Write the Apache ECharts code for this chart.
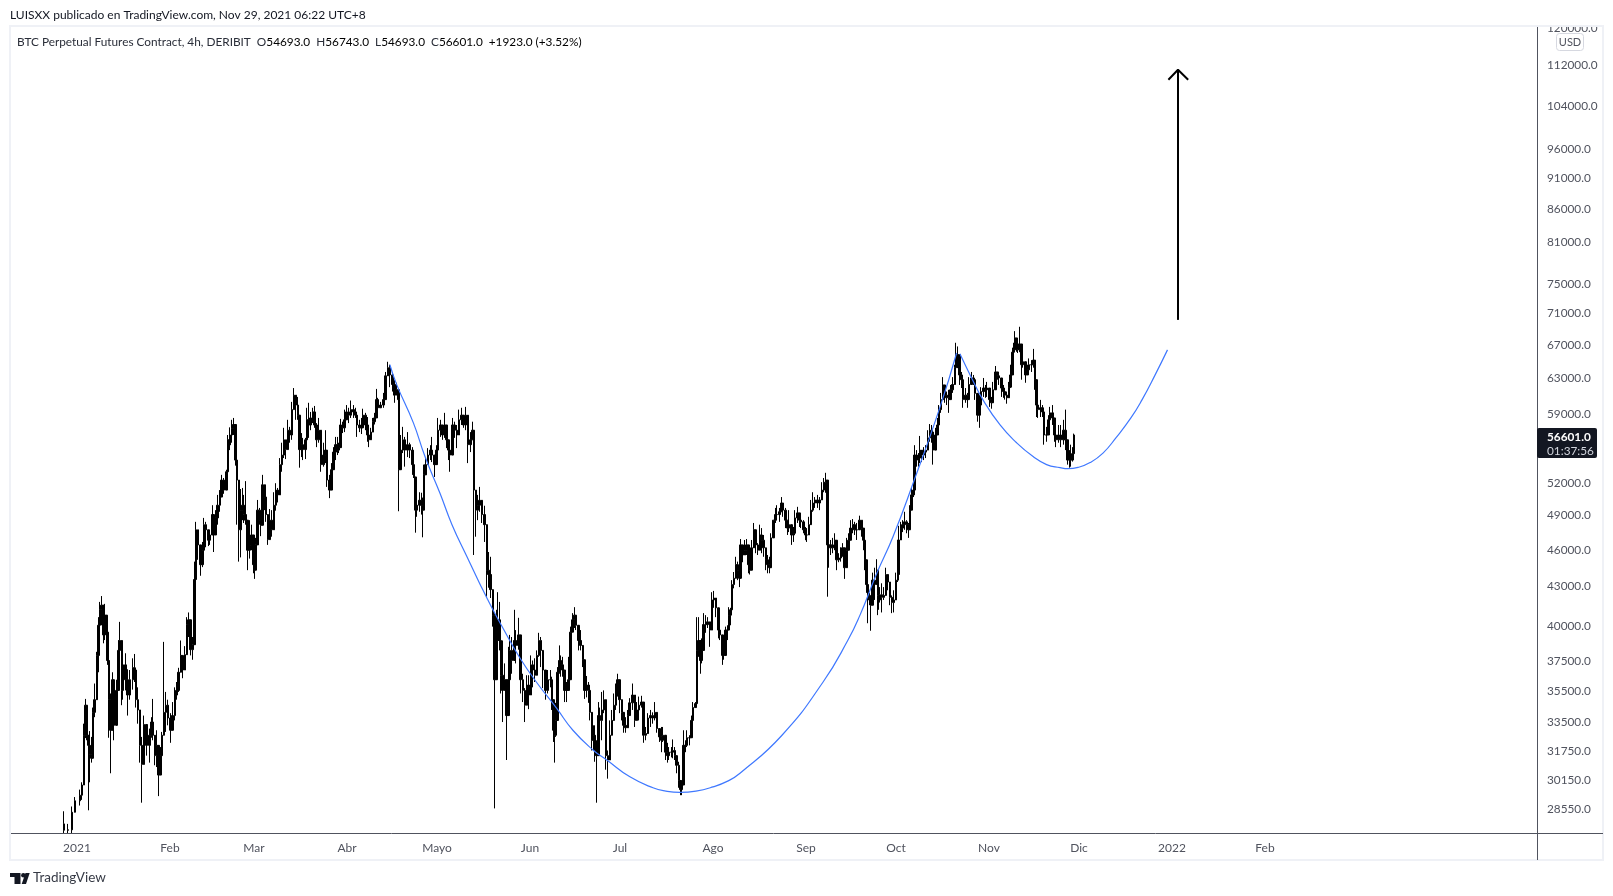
<!DOCTYPE html>
<html>
<head>
<meta charset="utf-8">
<title>BTC Perpetual Futures Contract</title>
<script src="https://cdn.jsdelivr.net/npm/echarts@6/dist/echarts.min.js"></script>
<style>
  html, body { margin: 0; padding: 0; background: #fff; }
  #chart { width: 1613px; height: 896px; }
</style>
</head>
<body>
<div id="chart"></div>
<script>
const candleDays = [
  -4.3,-3,-1.7,-0.6,1,1.7,2.3,2.9,3.4,3.8,4.3,4.9,5.3,5.9,6.6,7.2,7.7,8.2,8.8,9.3,9.9,10.2,10.7,11.2,11.8,12.4,13.2,13.8,14.3,15,15.4,16.1,16.8,17.7,18.6,19.1,19.7,20.3,21,21.6,22.3,23.2,24.1,24.8,25.1,26,26.6,27.1,27.9,28.4,
  29,29.7,30.4,31.2,31.9,32.7,33.2,33.8,34.7,35.2,36,36.7,37.2,37.9,38.6,39.1,39.7,40.4,41.2,41.8,42.3,43,43.8,44.3,45.1,45.6,46.2,46.9,47.7,48.2,49,49.9,50.4,50.8,
  51,51.7,52.2,52.9,53.4,54,54.6,55.2,55.7,56.2,56.9,57.5,58.1,58.8,59.1,59.7,60.2,60.8,61.3,61.9,62.6,63,63.7,64.3,65,65.7,66.3,67,67.7,68.3,69,69.7,70.3,71,71.7,72.3,73,73.7,74.1,74.8,75.4,76.1,76.6,77.1,77.9,78.6,79.2,79.9,80.6,
  81.4,82.1,82.8,83.4,84.1,84.8,85.5,86.1,86.8,87.4,87.9,88.6,89.2,89.9,90.6,91.4,92.1,92.8,93.4,94.1,94.8,95.4,96.1,96.8,97.3,98,98.6,99.2,99.8,100.4,101.2,102.1,102.9,103.6,104.3,105.1,105.8,106.6,107.1,107.4,
  107.9,108.7,109.3,110.1,111,111.8,112.3,112.8,113.4,114.1,114.8,115.4,115.6,116.2,117,117.8,118.4,119.2,119.9,120.4,121.1,121.9,122.7,123.2,123.9,124.4,125.2,125.9,126.7,127.3,128.1,128.8,129.6,130.4,131.1,131.8,132.3,133,133.6,134.2,135,135.8,136.6,137.2,137.9,138.6,139.2,139.8,140.3,140.9,141.4,141.9,142.6,143.2,143.8,144.3,145,145.8,146.4,147.1,147.9,148.6,149.3,150,150.7,151.3,152,152.7,153.3,154,154.6,155.4,156.2,157,157.8,158.3,158.8,159.2,159.7,160.2,160.8,
  161.2,161.9,162.5,163.2,163.9,164.5,165.1,165.8,166.4,167.1,167.9,168.6,169.2,169.9,170.6,171,171.6,172.1,172.7,173.1,173.8,174.3,175,175.7,176.3,177,177.7,178.3,179,179.7,180.2,180.9,181.6,182.2,182.9,183.6,184.2,185.1,186,186.7,187.3,188.1,188.8,189.6,190.4,191.2,192,192.7,193.3,194.1,194.8,195.4,196.1,196.8,197.4,198.1,198.7,199.3,199.9,200.6,201.1,201.6,202.1,202.8,203.4,204.2,204.8,205.4,206.1,206.6,207.1,207.8,208.3,208.9,209.6,210.2,211,211.6,212.3,213,213.8,
  214.3,215.2,215.7,216.2,216.9,217.4,217.9,218.3,219,219.6,220.2,220.8,221.2,221.9,222.6,223.2,223.9,224.3,224.9,225.6,226.2,227,227.7,228.2,228.9,229.6,230.2,230.9,231.4,232.1,232.8,233.4,234.1,234.8,235.4,236.1,236.8,237.4,238.1,238.8,239.4,240.1,240.8,241.4,242.1,242.8,243.4,244,244.7,245.3,246,246.8,247.7,248.3,249,249.6,250.1,250.6,251.2,251.9,252.6,253.2,253.9,254.6,255.2,255.9,256.6,257.2,257.9,258.6,259.2,259.9,260.9,261.6,262.2,262.7,263.1,263.6,264.1,264.6,265.2,265.9,266.6,267,267.4,
  267.7,268.3,269,269.7,270.3,271,271.7,272.3,273,273.6,273.9,274.6,275.2,275.9,276.6,277.1,277.6,278.1,278.8,279.2,279.9,280.6,281,281.7,282.3,283,283.7,284.3,285,285.4,286.1,286.8,287.4,288,288.6,289.2,289.9,290.6,291.2,291.9,292.6,293,293.6,294.1,294.8,295.4,296.1,296.8,297.4,298.1,298.8,299.4,300.1,300.8,301.4,302.1,302.8,303.4,304.1,304.8,305.4,306.1,306.8,307.4,308.1,308.8,309.4,310,310.6,311.2,311.8,312.2,312.7,313.2,313.6,314.1,314.8,315.4,316.1,316.8,317.4,318.1,318.8,319.3,319.8,320.4,321.1,321.8,322.4,323.1,323.8,324.4,325.1,325.8,326.4,327.1,
  328,328.8,329.5,330.2,330.8,331.4,331.9,332.3
];
const candleHighs = [
  28350,27700,28600,29100,29500,29900,33300,34850,33800,32200,32850,32500,34300,35850,38000,40500,41650,42100,40800,41500,40150,39050,37100,35200,36600,35600,36100,38830,40150,38100,37900,37900,36800,36750,37550,37850,35950,35600,32750,32500,33800,32600,33000,33700,34850,32450,32900,31050,31900,32800,
  38700,35300,34800,33950,34650,35600,35950,36900,38800,37750,38400,40500,40850,39350,39050,44850,48250,47550,45650,46500,48600,48250,47550,47350,49750,48700,49300,50700,51150,52600,52300,53100,56600,56300,
  57400,58200,58400,55800,54800,52100,51250,51350,50700,52000,47900,48400,48000,45550,46000,46850,50230,49500,49000,52600,51450,50500,48700,49400,49300,50950,51800,51350,54250,55800,57350,56100,58200,57450,60150,61700,60700,60700,57350,56800,56300,56300,59500,60050,59050,59500,59700,57850,58400,
  55800,55800,57100,52800,52600,53750,55350,56400,56400,55800,58300,58000,59300,59800,59500,60300,59800,59500,58500,58200,58400,59400,58950,58500,56800,57350,58400,58950,61600,60600,60150,61150,63550,64750,64400,63450,62600,62300,61150,59800,
  56600,57450,56400,56900,55800,55350,52800,50900,51350,50950,50900,50450,53600,54250,55250,55550,56400,54250,55550,58400,58200,57350,58950,56800,55900,55250,58400,58000,57650,59300,59500,57850,59600,56400,56900,58000,56100,51150,50700,51450,49500,49700,45800,45650,45250,42000,40800,41050,42400,41650,38800,38800,37200,35950,38350,39200,39050,41050,39550,40450,37650,36500,35550,36400,36400,37750,37400,37550,38100,39350,39050,37900,36300,36750,36750,36300,33800,33700,34600,36950,38450,
  37750,37650,36200,35950,37650,39800,40800,41250,40450,39550,39550,38100,36300,36350,35950,34600,33300,33200,33200,32300,34650,34300,35300,35400,32300,31700,33500,34150,35200,35850,36500,35200,34650,33800,33700,34150,34900,35850,34150,34650,35000,35050,33300,33100,33950,34150,34000,34650,33300,32800,33100,33100,32150,32150,31900,31900,32350,31900,31300,31050,29900,30000,32900,32300,32900,32600,33800,34650,34650,40500,40500,38000,38950,40800,40650,40500,39900,42400,42500,41950,39900,
  39700,38830,38450,39800,39900,41250,41200,43350,44000,45250,44850,44600,46750,46050,46670,46750,45250,44850,46670,48150,47100,46400,48000,47700,47100,45550,45400,45250,47250,48400,49500,49750,49500,50500,49750,49500,48400,49300,47700,47800,49300,49600,48900,48900,48400,47800,47700,48700,50230,50950,50500,50700,50500,51900,52300,52800,50950,47250,46670,46850,47250,45800,45550,46050,46400,45250,46850,47250,48400,48500,48250,48150,48800,48400,47700,45800,44000,43350,42350,42050,43950,44350,45050,43100,43100,
  42800,43100,42800,44350,43600,42550,42150,42550,43950,44050,47900,48250,48400,49150,48400,48150,49750,51350,51800,55550,55050,54750,56500,54850,55350,55550,57100,57750,57650,56400,57350,58400,59800,61150,62950,61500,61300,61500,62050,62950,64400,67050,66600,63800,63550,61500,61700,61150,62950,63550,63200,61800,59800,60900,61800,62850,62050,62400,61150,60700,62400,64250,63550,63450,62400,62050,61500,61300,62400,64400,66450,67050,68500,67650,67050,69050,65550,65300,64650,64400,65150,64950,66300,64950,61300,61150,60370,59800,58400,57450,58700,59600,59800,57650,57100,57650,
  57650,58200,59300,55600,55050,55600,55350,56743
];
const candleLows = [
  27240,27240,27240,28400,28650,28950,30470,32430,32300,28400,29900,31000,33050,33700,36400,36600,37850,39900,38600,38830,39050,37100,32450,30400,33950,32300,34000,36750,38130,34450,34800,35400,33800,34800,35450,35950,34300,33300,31000,28800,31900,31400,31000,32450,32300,30850,30750,29150,30750,31950,
  33300,32800,33200,32150,33200,33500,34800,35300,36750,36200,36950,38700,39050,37750,37450,39200,45000,45000,43700,44400,46400,46050,46150,46250,47450,45650,47100,48000,49150,50500,50800,52300,54750,55050,
  55800,55800,56600,53500,48000,44850,45200,48400,48150,48000,44150,45100,45800,43900,43450,45650,47800,48000,47000,50000,49300,48250,46250,46950,46950,49150,49250,50000,52100,52900,54250,54150,55250,55800,56100,59300,58200,58200,53300,54350,54050,54150,57100,56300,57100,57850,57350,55350,55800,
  52900,53400,53750,51450,50400,52100,53850,54050,54550,54750,56900,56800,56900,58400,57850,58400,58400,58400,56400,56900,56700,58200,57100,55900,55350,56300,57350,57700,59300,58400,59500,59500,62400,63500,61800,61300,60050,60900,59600,49200,
  53200,54750,53400,54350,54250,52600,52300,47300,48700,49150,48900,46900,50550,52800,53600,54050,53850,52400,53750,56100,56400,56100,56300,55250,54050,52900,56300,56300,55250,56600,57650,57350,57100,53750,54850,56100,45400,46950,48400,49150,48150,46500,42050,42750,41950,39800,28500,36500,38800,38100,35200,33400,35850,31150,34350,36500,36500,38000,37200,38150,35200,34650,33400,34650,34200,36500,35600,35950,36950,37650,36950,35550,34800,35200,35600,34150,32200,31000,32500,36200,36500,
  36300,36300,34650,34650,35400,38830,39550,39700,39550,38100,38100,36950,34850,34950,34600,33500,31700,31700,31050,28800,32300,32750,32300,33950,30600,30100,31300,32750,33950,34150,35000,33950,33500,32750,32750,33100,34300,34150,33100,33650,33500,34300,32150,32300,33200,33100,33300,33500,32750,32200,31600,32200,31150,31000,31150,31300,31250,31150,30400,29600,29200,29200,31400,31600,31900,32000,32750,33700,34300,35400,37650,36500,37200,38830,39350,39700,38350,40800,41200,40500,38950,
  38830,37100,37450,38830,38830,39900,39900,42400,42700,43600,43350,42800,45250,44800,45550,45400,43900,43800,45000,46050,45550,45400,46050,45550,45250,44150,43900,43900,45800,47250,48150,48400,48250,49150,48700,47700,47100,47350,46250,46500,47700,48150,47800,47700,47250,46650,46500,47100,48250,49150,49500,49500,49300,50500,50950,50900,42050,44350,45400,45550,45800,44150,44800,44850,45250,43450,44600,46050,46950,47250,47100,46670,47700,46950,45800,44150,42350,40050,41400,39500,42050,41800,43350,40650,41050,
  41600,40850,41800,42750,42550,41400,40800,40850,42750,43200,44150,46950,47350,47550,47250,46850,48600,49600,50500,51900,53400,53400,53750,53850,54050,54250,55350,55900,55800,53600,55350,56600,57450,58950,60600,60050,59800,58950,60700,61150,63450,63550,64000,62050,61700,59500,60050,59500,61150,62400,62050,60370,58000,57350,60050,60700,60600,60700,59600,59400,60150,62850,62650,62050,60700,60600,60400,59950,61300,61700,64650,65300,66450,65950,65800,65900,62650,64050,62300,63450,63550,63550,64050,61500,58500,58400,58500,58500,55600,55900,57350,58200,57650,55900,55350,55800,
  55350,55600,55050,53600,53300,53400,53900,54693
];
const candleCloses = [
  27380,27400,28300,28900,29200,29750,32600,34450,32600,32000,31450,31250,34000,34800,37750,39900,41050,41400,39200,40650,39400,37400,34800,32900,36100,33200,35400,38100,38800,35400,37100,36100,35100,36100,36900,36750,34800,34150,32000,30900,33250,32000,32600,33400,32600,31400,32000,30300,31400,32600,
  34000,34450,33650,32900,33800,35100,35400,36600,37750,36750,37800,39950,40300,38150,38500,43400,47550,46250,44600,45800,48000,47550,46650,47100,48900,47100,48600,49750,50500,52100,51150,52900,56100,55600,
  56600,57300,57700,54050,52100,47550,49300,49750,48900,48400,45800,46200,47100,44600,44150,46250,49300,48400,47950,51650,50500,48900,46700,48400,47550,49750,51150,50700,53600,54550,56100,55100,57100,56600,59300,60900,59800,58700,55100,55600,55100,56100,58200,57650,58400,59050,57650,56100,57100,
  53600,54550,55050,52100,51150,53100,54850,55600,55050,55300,57650,57350,58200,59050,58700,59300,59050,58700,57650,57350,57350,58700,57650,56600,56100,56900,58000,58400,60400,59500,59800,60400,63100,64050,63200,62100,60900,61500,60400,53100,
  55050,56100,55050,55600,55050,53600,52400,49300,49750,50200,49750,49300,52600,53600,54550,55050,54550,53600,55050,57100,57650,56600,57650,56100,55050,54550,57650,57100,56600,58200,58700,57650,58700,55600,56100,57100,51150,49300,49750,50200,48900,48000,44150,43800,42600,40650,36100,38800,40300,38800,36400,35400,36100,33800,36100,38100,37400,38800,38450,39200,36100,35400,34450,35750,35100,37100,36750,36400,37750,38800,38100,36750,35400,36100,36100,34800,32900,32600,33500,36600,37400,
  37100,36750,35400,35400,36100,39400,40300,40650,39900,38800,38450,37450,35400,35750,35400,34000,32300,32600,31700,31400,33800,33500,34150,34800,31400,31150,32600,33500,34450,35100,36100,34800,34000,33200,33050,33800,34600,35100,33500,34150,34450,34650,32600,32700,33650,33800,33650,34000,33000,32500,32300,32600,31600,31400,31600,31600,31700,31400,30850,30000,29500,29750,32000,32000,32450,32450,33500,34300,34550,38100,38800,37400,38100,39950,39950,40150,39550,41800,41950,41200,39550,
  39200,37750,37750,39550,39550,40650,41050,43000,43500,44600,44150,43500,46250,45400,45800,46250,44600,44150,46000,47550,46250,45800,47100,46650,46000,45000,44600,44350,46850,48400,48900,48900,49150,49950,49300,48400,47700,48000,47100,47250,48600,49050,48400,48250,47550,47100,47100,48000,49300,49950,50230,49950,50230,51150,51900,52100,46250,46250,46000,46250,46650,45000,45150,45650,46000,44350,45800,46650,47700,48000,47550,47550,48400,47700,46650,45000,43000,42150,41800,41400,43350,43000,44150,42150,41800,
  42200,42000,42150,43800,43200,42000,41600,41800,43350,43800,46670,47700,48000,48250,48000,47550,49300,50700,51150,54550,54050,54250,55050,54550,54850,55050,56300,57100,56900,55050,56600,57650,59300,60400,62050,60900,60600,60400,61500,62100,64050,65600,65600,63200,62650,60400,60900,60400,62100,62850,62650,61100,58700,59800,61300,61700,61500,61700,60400,60050,61500,63550,63100,62850,61700,61300,60900,60600,61800,63200,65900,66180,67650,66900,66200,66900,64400,64750,63200,63800,64400,64400,64950,62650,59800,59300,59500,59050,56600,56600,58200,58950,58400,56600,56100,56600,
  56100,57100,56100,54050,54550,54050,54693,56601
];

const curveOneDays = [104.3,106.6,112.1,116,121,125,130,134.3,138.3,142.1,147.7,153.3,159.9,165.3,172,176.6,184.3,192,196.3,201,206.3,212,216.7,221,235,248.7,257,261,266.6,272,278.7,287.7,293.2];
const curveOnePrices = [64400,62060,57900,54400,50850,48000,45250,43050,41200,39650,37550,35900,34250,32900,31730,31150,30200,29600,29420,29350,29420,29650,29950,30400,32600,35950,38830,40650,43900,46950,51800,59600,65800];
const curveTwoDays = [294.3,298.2,302,307.7,313.2,318.7,323.2,327.7,330.3,333.7,337.7,342,346.3,351.3,355,359.3,363.5];
const curveTwoPrices = [65700,62850,60370,57650,55800,54400,53600,53300,53200,53330,53800,54750,56300,58400,60370,63150,66180];

const arrowShaftDays = [367,367];
const arrowShaftPrices = [69930,110730];
const arrowHeadDays = [363.8,367,370.4];
const arrowHeadPrices = [108720,110730,108720];

const dateTickDays = [0,31,59,90,120,151,181,212,243,273,304,334,365,396];
const dateTickLabels = ["2021","Feb","Mar","Abr","Mayo","Jun","Jul","Ago","Sep","Oct","Nov","Dic","2022","Feb"];
const priceTicks = [120000,112000,104000,96000,91000,86000,81000,75000,71000,67000,63000,59000,52000,49000,46000,43000,40000,37500,35500,33500,31750,30150,28550];

// each candle opens on the previous close
const candles = candleDays.map((d, i) => [
  d,
  i === 0 ? 27700 : candleCloses[i - 1],
  candleCloses[i],
  candleLows[i],
  candleHighs[i],
]);
const zip = (days, prices) => days.map((d, i) => [d, prices[i]]);

const uiFont = "Lato, sans-serif";
const textColor = "#50535e";
const lineColor = "#50535e";
const frameColor = "#eff1f6";
const curveStyle = { color: "#3f78ff", width: 1.2 };

const chart = echarts.init(document.getElementById("chart"), null, { renderer: "canvas" });
chart.setOption({
  animation: false,
  backgroundColor: "#fff",
  grid: { left: 10, top: 26, width: 1527, height: 807 },
  xAxis: {
    type: "value",
    min: -22.33,
    max: 486.67,
    splitLine: { show: false },
    axisTick: { show: false },
    axisLine: { show: true, onZero: false, lineStyle: { color: lineColor, width: 1 } },
    axisLabel: {
      customValues: dateTickDays,
      formatter: (v) => dateTickLabels[dateTickDays.indexOf(v)] || "",
      color: textColor,
      fontFamily: uiFont,
      fontSize: 12,
      margin: 9,
      hideOverlap: false,
    },
  },
  yAxis: {
    type: "log",
    position: "right",
    min: 27240,
    max: 120000,
    splitLine: { show: false },
    axisTick: { show: false },
    axisLine: { show: true, onZero: false, lineStyle: { color: lineColor, width: 1 } },
    axisLabel: {
      customValues: priceTicks,
      // the rich padding pushes the digits down to sit like the reference
      formatter: (v) => "{p|" + Number(v).toFixed(1) + "}",
      rich: { p: { color: textColor, fontFamily: uiFont, fontSize: 11.8, padding: [4, 0, 0, 0] } },
      margin: 10,
      hideOverlap: false,
    },
  },
  series: [
    {
      type: "candlestick",
      data: candles,
      barWidth: 2,
      large: false,
      itemStyle: { color: "#000", color0: "#000", borderColor: "#000", borderColor0: "#000", borderWidth: 1 },
      z: 2,
    },
    { type: "line", data: zip(curveOneDays, curveOnePrices), smooth: 0.5, showSymbol: false, lineStyle: curveStyle, z: 3 },
    { type: "line", data: zip(curveTwoDays, curveTwoPrices), smooth: 0.5, showSymbol: false, lineStyle: curveStyle, z: 3 },
    { type: "line", data: zip(arrowShaftDays, arrowShaftPrices), showSymbol: false, lineStyle: { color: "#000", width: 2 }, z: 3 },
    { type: "line", data: zip(arrowHeadDays, arrowHeadPrices), showSymbol: false, lineStyle: { color: "#000", width: 2 }, z: 3 },
  ],
  graphic: [
    // covers the top of the clipped 120000 label, then the frame
    { type: "rect", z: 50, shape: { x: 1538, y: 0, width: 75, height: 27 }, style: { fill: "#fff" } },
    { type: "rect", z: 51, shape: { x: 10, y: 26, width: 1593, height: 834 }, style: { fill: "none", stroke: frameColor, lineWidth: 2 } },
    { type: "line", z: 52, shape: { x1: 1537, y1: 833.5, x2: 1603, y2: 833.5 }, style: { stroke: lineColor, lineWidth: 1 } },
    { type: "line", z: 52, shape: { x1: 1537.5, y1: 27, x2: 1537.5, y2: 860 }, style: { stroke: lineColor, lineWidth: 1 } },
    { type: "text", z: 60, x: 10, y: 15.5, style: { text: "LUISXX publicado en TradingView.com, Nov 29, 2021 06:22 UTC+8", font: "12px " + uiFont, fill: "#131722", verticalAlign: "middle" } },
    {
      type: "text", z: 60, x: 17, y: 42,
      style: {
        text: "{t|BTC Perpetual Futures Contract, 4h, DERIBIT  O}{n|54693.0}{t|  H}{n|56743.0}{t|  L}{n|54693.0}{t|  C}{n|56601.0}{n|  +1923.0 (+3.52%)}",
        verticalAlign: "middle",
        rich: {
          t: { font: "11.8px " + uiFont, fill: "#2a2e39" },
          n: { font: "11.8px " + uiFont, fill: "#000" },
        },
      },
    },
    { type: "rect", z: 60, shape: { x: 1556.5, y: 33.5, width: 27, height: 17, r: 3 }, style: { fill: "#fff", stroke: "#d6d8e0", lineWidth: 1 } },
    { type: "text", z: 61, x: 1570, y: 42, style: { text: "USD", font: "11px " + uiFont, fill: textColor, align: "center", verticalAlign: "middle" } },
    { type: "rect", z: 60, shape: { x: 1537, y: 428, width: 60, height: 30, r: 2 }, style: { fill: "#131722" } },
    { type: "text", z: 61, x: 1547, y: 437, style: { text: "56601.0", font: "bold 11.8px " + uiFont, fill: "#fff", verticalAlign: "middle" } },
    { type: "text", z: 61, x: 1547, y: 451, style: { text: "01:37:56", font: "11.8px " + uiFont, fill: "#d1d4dc", verticalAlign: "middle" } },
    // logo mark
    { type: "polygon", z: 60, shape: { points: [[10,873],[20.5,873],[20.5,884],[14.5,884],[14.5,877],[10,877]] }, style: { fill: "#131722" } },
    { type: "circle", z: 60, shape: { cx: 23.3, cy: 875.2, r: 2.2 }, style: { fill: "#131722" } },
    { type: "polygon", z: 60, shape: { points: [[25.5,873],[29.7,873],[26,884],[21.7,884]] }, style: { fill: "#131722" } },
    { type: "text", z: 60, x: 33, y: 878, style: { text: "TradingView", font: "13.5px " + uiFont, fill: "#363a45", verticalAlign: "middle" } },
  ],
});
</script>
</body>
</html>
